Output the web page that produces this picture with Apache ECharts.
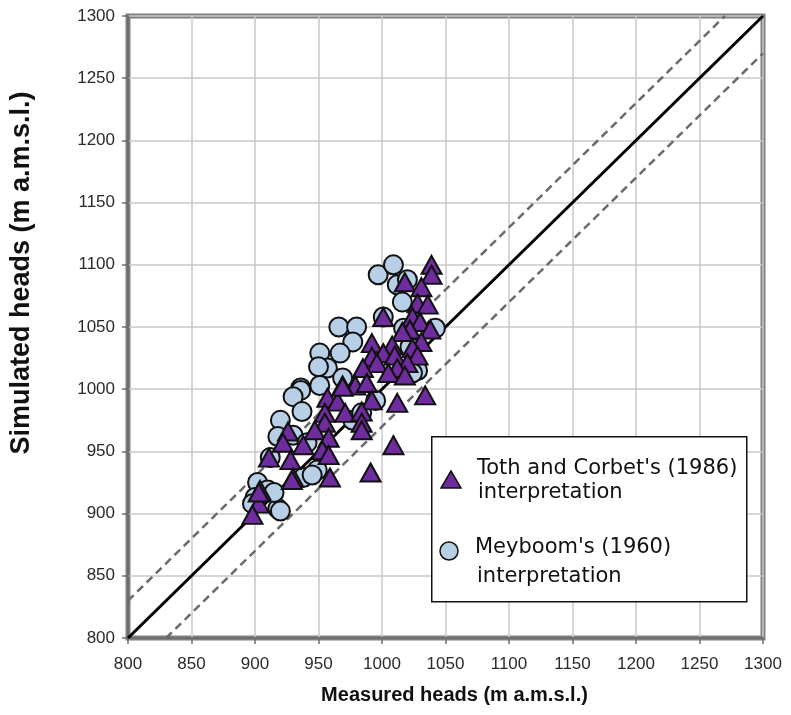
<!DOCTYPE html>
<html>
<head>
<meta charset="utf-8">
<script src="https://cdn.jsdelivr.net/npm/echarts@6/dist/echarts.min.js"></script>
<style>html,body{margin:0;padding:0;background:#fff}#c{width:791px;height:715px}</style>
</head>
<body>
<div id="c"></div>
<script>
// Measured vs simulated heads, two interpretations.
const axisTicks = [800, 850, 900, 950, 1000, 1050, 1100, 1150, 1200, 1250, 1300];

// Meyboom's (1960) interpretation — [measured, simulated]
const meyboom = [
  [997, 1092], [1009, 1100], [1012, 1084], [1016, 1070], [1020, 1088], [1001, 1058],
  [966, 1050], [980, 1050], [977, 1038], [967, 1029], [951, 1029], [957, 1017],
  [950, 1018], [969, 1009], [951, 1003], [936, 1001], [1017, 1049], [1042, 1049],
  [1022, 1034], [1028, 1015], [1024, 1013], [936, 999], [930, 994], [937, 982],
  [920, 975], [930, 963], [918, 962], [941, 957], [912, 945], [949, 935],
  [938, 929], [902, 925], [910, 919], [918, 904], [977, 975], [984, 981],
  [995, 991], [900, 913], [945, 931], [915, 917], [920, 902], [898, 908]
];

// Toth and Corbet's (1986) interpretation — [measured, simulated]
const toth = [
  [1039, 1100], [1039, 1092], [1018, 1086], [1031, 1082], [1028, 1069], [1036, 1068],
  [1001, 1058], [1024, 1058], [1030, 1054], [1022, 1048], [1038, 1048], [1016, 1046],
  [1031, 1038], [1008, 1035], [992, 1037], [1024, 1033], [1001, 1029], [1010, 1027],
  [1028, 1027], [992, 1026], [996, 1021], [985, 1017], [1020, 1021], [1012, 1017],
  [1005, 1013], [1018, 1011], [979, 1003], [969, 1003], [988, 1005], [957, 993],
  [965, 990], [969, 1002], [992, 991], [1012, 989], [1034, 995], [971, 981],
  [984, 982], [984, 973], [984, 967], [955, 981], [955, 973], [947, 967],
  [926, 966], [958, 961], [922, 957], [938, 955], [953, 951], [958, 947],
  [911, 945], [928, 943], [1009, 955], [991, 933], [930, 929], [959, 929],
  [904, 919], [903, 908], [898, 899], [903, 917], [929, 927]
];

// 1:1 line and +/-30 m band
const oneToOne = [[800, 800], [1300, 1300]];
const upperBand = [[800, 830], [1270, 1300]];
const lowerBand = [[830, 800], [1300, 1270]];

const chart = echarts.init(document.getElementById('c'), null, { renderer: 'canvas' });

const sans = 'Liberation Sans, Arial, sans-serif';
const tickFont = { fontFamily: sans, fontSize: 17, color: '#2a2a2a' };
const legFont = 'DejaVu Sans, sans-serif';

const axisCommon = {
  type: 'value', min: axisTicks[0], max: axisTicks[axisTicks.length - 1], interval: 50,
  axisLine: { show: true, lineStyle: { color: '#6e6e6e', width: 2 } },
  axisTick: { show: true, length: 6, lineStyle: { color: '#6e6e6e', width: 1.5 } },
  splitLine: { show: true, lineStyle: { color: '#c8c8c8', width: 1.5 } },
  axisLabel: Object.assign({ formatter: (v) => String(v) }, tickFont),
  nameLocation: 'middle'
};

chart.setOption({
  animation: false,
  backgroundColor: '#fff',
  grid: { left: 127, right: 28, top: 16, bottom: 77, show: true, borderColor: '#808080', borderWidth: 5, backgroundColor: '#fff' },
  xAxis: Object.assign({}, axisCommon, {
    name: 'Measured heads (m a.m.s.l.)', nameGap: 47,
    axisLabel: Object.assign({}, axisCommon.axisLabel, { margin: 18 }),
    // name sits a little right of the axis centre in the source
    nameTextStyle: { fontFamily: sans, fontSize: 20, fontWeight: 'bold', color: '#111', padding: [0, 0, 0, 18] }
  }),
  yAxis: Object.assign({}, axisCommon, {
    name: 'Simulated heads (m a.m.s.l.)', nameGap: 93,
    axisLabel: Object.assign({}, axisCommon.axisLabel, { margin: 13 }),
    // and this one sits well above the axis centre
    nameTextStyle: { fontFamily: sans, fontSize: 27, fontWeight: 'bold', color: '#111', padding: [0, 0, 0, 108] }
  }),
  series: [
    { type: 'line', data: oneToOne, symbol: 'none', lineStyle: { color: '#000', width: 3 }, z: 3 },
    { type: 'line', data: upperBand, symbol: 'none', lineStyle: { color: '#6a6a6a', width: 2.5, type: [8, 5] }, z: 3 },
    { type: 'line', data: lowerBand, symbol: 'none', lineStyle: { color: '#6a6a6a', width: 2.5, type: [8, 5] }, z: 3 },
    {
      name: "Meyboom's (1960) interpretation", type: 'scatter', data: meyboom,
      symbol: 'circle', symbolSize: 19, z: 4,
      itemStyle: { color: '#b8cfe8', borderColor: '#111', borderWidth: 2, opacity: 1 }
    },
    {
      name: "Toth and Corbet's (1986) interpretation", type: 'scatter', data: toth,
      symbol: 'triangle', symbolSize: [20, 18], z: 5,
      itemStyle: { color: '#6f2c9e', borderColor: '#111', borderWidth: 2, opacity: 1 }
    }
  ],
  graphic: [
    { type: 'rect', left: 431, top: 436, shape: { width: 315, height: 165 }, style: { fill: '#fff', stroke: '#111', lineWidth: 1.5 }, z: 100 },
    { type: 'polygon', shape: { points: [[451, 471], [441, 488], [461, 488]] }, style: { fill: '#6f2c9e', stroke: '#111', lineWidth: 1.5 }, z: 101 },
    { type: 'text', x: 477, y: 469, style: { text: "Toth and Corbet's (1986)", font: '21px ' + legFont, fill: '#111', verticalAlign: 'middle' }, z: 101 },
    { type: 'text', x: 478, y: 493, style: { text: 'interpretation', font: '21px ' + legFont, fill: '#111', verticalAlign: 'middle' }, z: 101 },
    { type: 'circle', shape: { cx: 449, cy: 551, r: 9 }, style: { fill: '#b8cfe8', stroke: '#111', lineWidth: 1.5 }, z: 101 },
    { type: 'text', x: 475, y: 548, style: { text: "Meyboom's (1960)", font: '21px ' + legFont, fill: '#111', verticalAlign: 'middle' }, z: 101 },
    { type: 'text', x: 477, y: 577, style: { text: 'interpretation', font: '21px ' + legFont, fill: '#111', verticalAlign: 'middle' }, z: 101 }
  ]
});
</script>
</body>
</html>
